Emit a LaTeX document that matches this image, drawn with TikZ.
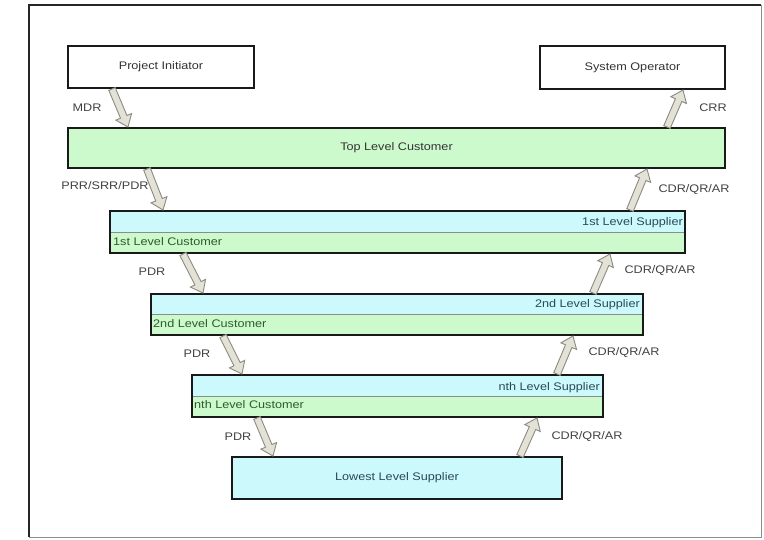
\documentclass[tikz,border=0pt]{standalone}
\usepackage{fontspec}
\setmainfont[FakeStretch=1.15]{Liberation Sans}
\usetikzlibrary{calc}
\definecolor{grn}{HTML}{CCFACC}
\definecolor{cyn}{HTML}{CCFAFC}
\definecolor{arrfill}{HTML}{E4E2D6}
\definecolor{arrline}{HTML}{8A8A80}
\definecolor{suptxt}{HTML}{2A4858}
\definecolor{custxt}{HTML}{2E5A2E}
\definecolor{lbltxt}{HTML}{404040}
\newcommand\blockarrow[3]{%
  \coordinate (#3h) at ($(#2)!11pt!(#1)$);
  \draw[barrow] ($(#1)!3.5pt!90:(#2)$) -- ($(#3h)!3.5pt!90:(#2)$) -- ($(#3h)!8.5pt!90:(#2)$)
    -- (#2) -- ($(#3h)!8.5pt!-90:(#2)$) -- ($(#3h)!3.5pt!-90:(#2)$) -- ($(#1)!3.5pt!-90:(#2)$) -- cycle;}
\begin{document}
\begin{tikzpicture}[x=1pt,y=-1pt,
  box/.style={draw=black!90, line width=2.2pt, inner sep=0pt, text=black!80,
    font=\fontsize{11}{13}\selectfont},
  splitbox/.style={box, fill=grn, path picture={
    \fill[cyn] (path picture bounding box.north west) rectangle (path picture bounding box.east);
    \draw[black!45, line width=0.6pt] (path picture bounding box.west) -- (path picture bounding box.east);}},
  suplabel/.style={inner sep=1pt, text=suptxt, font=\fontsize{11}{13}\selectfont},
  cuslabel/.style={inner sep=1pt, text=custxt, font=\fontsize{11}{13}\selectfont},
  flowlabel/.style={inner sep=0pt, text=lbltxt, font=\fontsize{11}{13}\selectfont},
  barrow/.style={draw=arrline, fill=arrfill, line width=0.9pt, line join=miter}]
\useasboundingbox (0,0) rectangle (764,539);
% frame
\draw[line width=1.8pt, black!85] (29,537) -- (29,5) -- (761,5);
\draw[line width=0.8pt, black!45] (761,5) -- (761,537) -- (29,537);
% boxes
\node[box, fill=white, minimum width=186pt, minimum height=42pt] (pi) at (161,67) {Project Initiator};
\node[box, fill=white, minimum width=185pt, minimum height=43pt] (so) at (632.5,67.5) {System Operator};
\node[box, fill=grn, minimum width=657pt, minimum height=40pt] (top) at (396.5,148) {Top Level Customer};
\node[splitbox, minimum width=575pt, minimum height=42pt] (l1) at (397.5,232) {};
\node[splitbox, minimum width=492pt, minimum height=41pt] (l2) at (397,314.5) {};
\node[splitbox, minimum width=411pt, minimum height=42pt] (ln) at (397.5,396) {};
\node[box, fill=cyn, text=suptxt, minimum width=330pt, minimum height=42pt] (low) at (397,478) {Lowest Level Supplier};
% texts in split boxes
\node[suplabel, anchor=east] (s1) at (684,223) {1st Level Supplier};
\node[cuslabel, anchor=west] (c1) at (112,242) {1st Level Customer};
\node[suplabel, anchor=east] (s2) at (641,305) {2nd Level Supplier};
\node[cuslabel, anchor=west] (c2) at (152,324) {2nd Level Customer};
\node[suplabel, anchor=east] (sn) at (601,388) {nth Level Supplier};
\node[cuslabel, anchor=west] (cn) at (193,405) {nth Level Customer};
% arrow end points
\coordinate (a1s) at (112,89);  \coordinate (a1e) at (128,127);
\coordinate (b1s) at (667,127); \coordinate (b1e) at (683,90);
\coordinate (a2s) at (147,169); \coordinate (a2e) at (163,210);
\coordinate (b2s) at (630,210); \coordinate (b2e) at (647,169);
\coordinate (a3s) at (183,254); \coordinate (a3e) at (203,293);
\coordinate (b3s) at (593,293); \coordinate (b3e) at (610,254);
\coordinate (a4s) at (223,336); \coordinate (a4e) at (242,374);
\coordinate (b4s) at (557,374); \coordinate (b4e) at (573,336);
\coordinate (a5s) at (257,418); \coordinate (a5e) at (273,456);
\coordinate (b5s) at (520,456); \coordinate (b5e) at (537,418);
\blockarrow{a1s}{a1e}{a1}
\blockarrow{b1s}{b1e}{b1}
\blockarrow{a2s}{a2e}{a2}
\blockarrow{b2s}{b2e}{b2}
\blockarrow{a3s}{a3e}{a3}
\blockarrow{b3s}{b3e}{b3}
\blockarrow{a4s}{a4e}{a4}
\blockarrow{b4s}{b4e}{b4}
\blockarrow{a5s}{a5e}{a5}
\blockarrow{b5s}{b5e}{b5}
% flow labels
\node[flowlabel] (mdr) at (87,108) {MDR};
\node[flowlabel] (crr) at (713,108) {CRR};
\node[flowlabel] (prr) at (105,186) {PRR/SRR/PDR};
\node[flowlabel] (cdr1) at (694,190) {CDR/QR/AR};
\node[flowlabel] (pdr1) at (152,272) {PDR};
\node[flowlabel] (cdr2) at (660,271) {CDR/QR/AR};
\node[flowlabel] (pdr2) at (197,354) {PDR};
\node[flowlabel] (cdr3) at (624,353) {CDR/QR/AR};
\node[flowlabel] (pdr3) at (238,437) {PDR};
\node[flowlabel] (cdr4) at (587,437) {CDR/QR/AR};
\end{tikzpicture}
\end{document}
